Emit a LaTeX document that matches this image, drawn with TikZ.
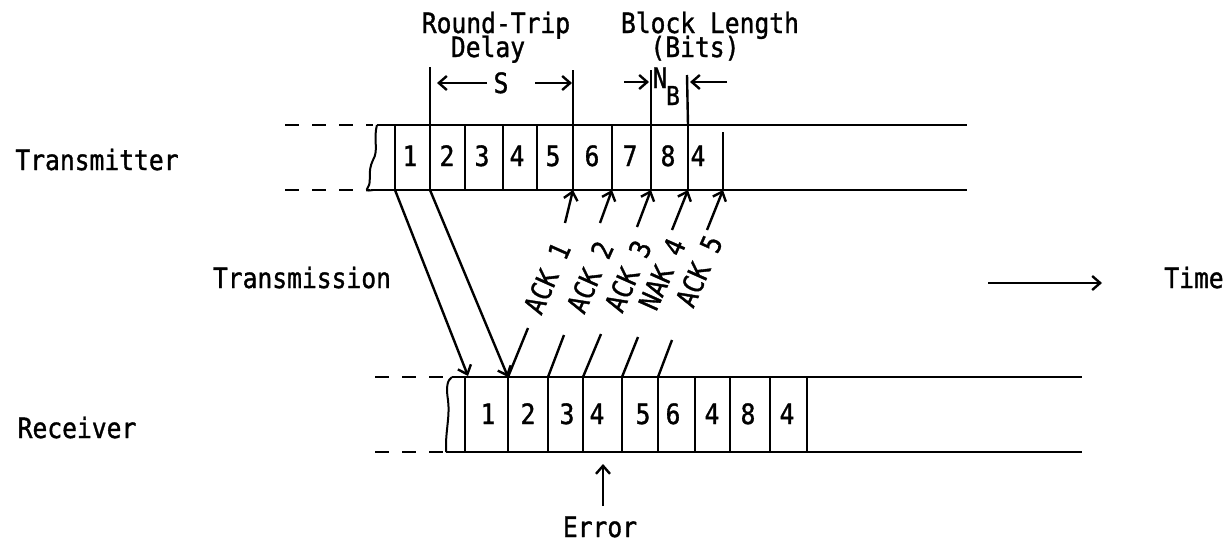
\documentclass[tikz,border=0pt]{standalone}
\usepackage{fontspec}
\newfontfamily\lgfont[FakeStretch=0.88,FakeBold=1.2]{DejaVu Sans Mono}
\usetikzlibrary{arrows.meta}
\begin{document}
\begin{tikzpicture}[x=1pt,y=-1pt,line width=2.4pt,
  txt/.style={font=\lgfont\fontsize{28}{30}\selectfont,inner sep=0pt,anchor=base},
  sub/.style={font=\lgfont\fontsize{26}{28}\selectfont,inner sep=0pt,anchor=base},
  tip/.style={-{Straight Barb[length=8pt,width=14pt,line width=2.4pt]}},
  dashline/.style={dash pattern=on 14pt off 13pt},
  lbl/.style={txt,anchor=center,rotate=66}]
\useasboundingbox (0,0) rectangle (1232,544);

% ---------------- Transmitter row ----------------
\coordinate (tTL) at (377,125); \coordinate (tTR) at (967,125);
\coordinate (tBL) at (373,190); \coordinate (tBR) at (967,190);
\draw[dashline] (285,125) -- (373,125);
\draw[dashline] (285,190) -- (370,190);
\draw (tTL) -- (tTR);
\draw (tBL) -- (tBR);
\draw[line width=2pt] (tTL) .. controls (373,140) and (379,150) .. (373,160)
      .. controls (367,172) and (372,182) .. (368,187) .. controls (366,191) .. (tBL);
\foreach \x/\n in {395/t1,430/t2,465/t3,503/t4,537/t5,573/t6,612/t7,651/t8,688/t9}{
  \coordinate (\n u) at (\x,125); \coordinate (\n d) at (\x,190);
  \draw (\n u) -- (\n d);
}
\coordinate (t10u) at (723,132); \coordinate (t10d) at (723,190);
\draw (t10u) -- (t10d);
% extended markers
\coordinate (m1) at (430,67); \coordinate (m2) at (573,70);
\coordinate (m3) at (651,70); \coordinate (m4) at (687,75);
\draw (m1) -- (t2u); \draw (m2) -- (t6u); \draw (m3) -- (t8u); \draw (m4) -- (t9u);

\foreach \x/\d in {410/1,447/2,482/3,517/4,553/5,592/6,630/7,668/8,698/4}{
  \node[txt] at (\x,166) {\d};
}

% ---------------- Receiver row ----------------
\coordinate (rTL) at (452,377); \coordinate (rTR) at (1082,377);
\coordinate (rBL) at (446,452); \coordinate (rBR) at (1082,452);
\draw[dashline] (375,377) -- (447,377);
\draw[dashline] (375,452) -- (443,452);
\draw (rTL) -- (rTR);
\draw (rBL) -- (rBR);
\draw[line width=2pt] (rTL) .. controls (447,380) and (446,388) .. (448,400)
      .. controls (450,415) and (446,430) .. (446,445) .. controls (446,450) .. (rBL);
\foreach \x/\n in {465/r1,508/r2,548/r3,583/r4,622/r5,658/r6,695/r7,730/r8,770/r9,807/r10}{
  \coordinate (\n u) at (\x,377); \coordinate (\n d) at (\x,452);
  \draw (\n u) -- (\n d);
}
\foreach \x/\d in {488/1,528/2,567/3,597/4,643/5,673/6,712/4,748/8,787/4}{
  \node[txt] at (\x,424) {\d};
}

% ---------------- Transmission arrows ----------------
\draw[tip] (t1d) -- (468,376);
\draw[tip] (t2d) -- (r2u);

% ---------------- ACK / NAK ----------------
\coordinate (a1s) at (528,328); \coordinate (a1e) at (565,223);
\coordinate (a2s) at (564,335); \coordinate (a2e) at (600,223);
\coordinate (a3s) at (601,334); \coordinate (a3e) at (637,227);
\coordinate (a4s) at (638,337); \coordinate (a4e) at (672,230);
\coordinate (a5s) at (672,340); \coordinate (a5e) at (707,230);
\draw (r2u) -- (a1s); \draw[tip] (a1e) -- (t6d);
\draw (r3u) -- (a2s); \draw[tip] (a2e) -- (t7d);
\draw (r4u) -- (a3s); \draw[tip] (a3e) -- (t8d);
\draw (r5u) -- (a4s); \draw[tip] (a4e) -- (t9d);
\draw (r6u) -- (a5s); \draw[tip] (a5e) -- (t10d);
\node[lbl] (L1) at (547,278) {ACK 1};
\node[lbl] (L2) at (590,277) {ACK 2};
\node[lbl] (L3) at (628,276) {ACK 3};
\node[lbl] (L4) at (662,274) {NAK 4};
\node[lbl] (L5) at (699,271) {ACK 5};

% ---------------- Top labels ----------------
\node[txt] (rt) at (496,33) {Round-Trip};
\node[txt] (dl) at (488,57) {Delay};
\node[txt] (bl) at (710,33) {Block Length};
\node[txt] (bt) at (695,57) {(Bits)};
\node[txt] (S) at (501,93) {S};
\coordinate (sa1) at (487,83); \coordinate (sa1e) at (437,83);
\coordinate (sa2) at (535,83); \coordinate (sa2e) at (572,83);
\draw[tip] (sa1) -- (sa1e);
\draw[tip] (sa2) -- (sa2e);
\node[txt] (N) at (660,88) {N};
\node[sub] (B) at (673,105) {B};
\coordinate (na1) at (624,82); \coordinate (na1e) at (649,82);
\coordinate (na2) at (727,82); \coordinate (na2e) at (690,82);
\draw[tip] (na1) -- (na1e);
\draw[tip] (na2) -- (na2e);

% ---------------- Side labels ----------------
\node[txt] (tx) at (97,170) {Transmitter};
\node[txt] (tm) at (302,288) {Transmission};
\node[txt] (rx) at (77,438) {Receiver};
\node[txt] (tim) at (1194,288) {Time};
\coordinate (ta) at (988,283); \coordinate (tb) at (1102,283);
\draw[tip] (ta) -- (tb);

% ---------------- Error ----------------
\node[txt] (err) at (600,537) {Error};
\coordinate (ea) at (603,506); \coordinate (eb) at (603,464);
\draw[tip] (ea) -- (eb);
\end{tikzpicture}
\end{document}
